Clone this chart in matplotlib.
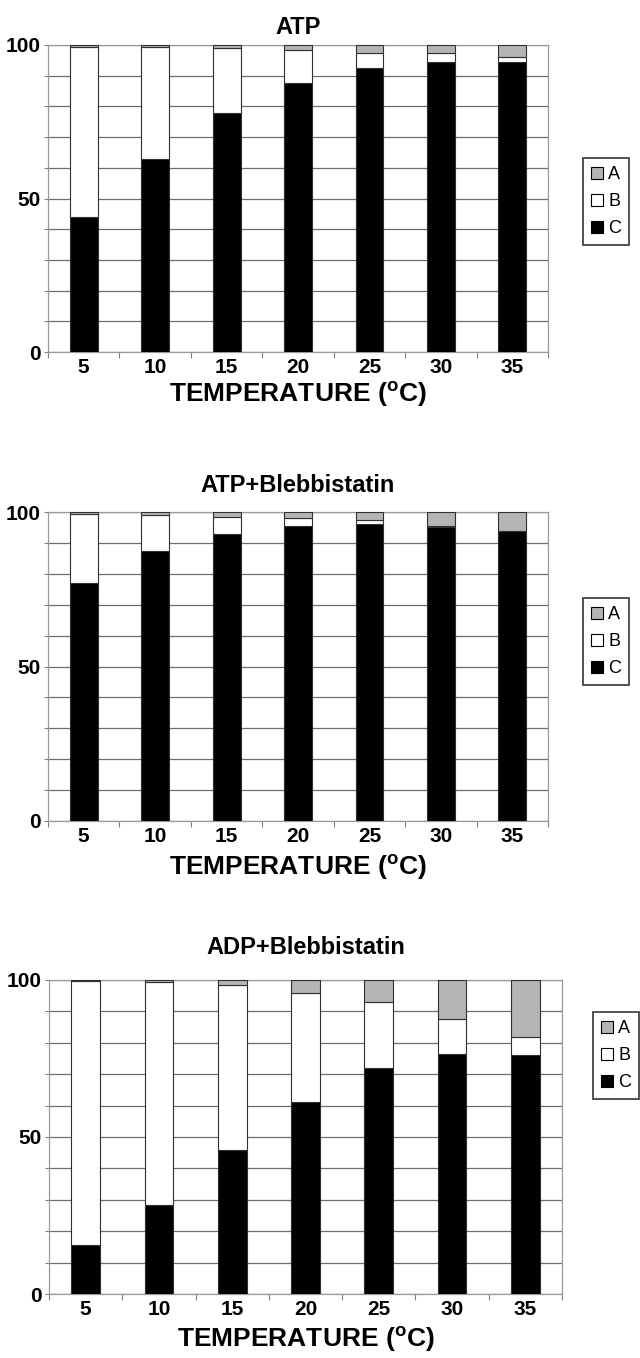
import numpy as np
import matplotlib
matplotlib.use("Agg")
import matplotlib.pyplot as plt
from matplotlib.patches import Patch

plt.rcParams['font.family'] = ['Liberation Sans', 'DejaVu Sans']

temps = ["5", "10", "15", "20", "25", "30", "35"]

# percentage of each state (A, B, C) per temperature
atp_a = [0.5, 0.5, 1.0, 1.5, 2.5, 2.5, 4.0]
atp_b = [55.5, 36.5, 21.0, 11.0, 5.0, 3.0, 1.5]
atp_c = [44.0, 63.0, 78.0, 87.5, 92.5, 94.5, 94.5]

atpb_a = [0.5, 1.0, 1.5, 2.0, 2.5, 4.5, 6.0]
atpb_b = [22.5, 11.5, 5.5, 2.5, 1.5, 0.5, 0.0]
atpb_c = [77.0, 87.5, 93.0, 95.5, 96.0, 95.0, 94.0]

adpb_a = [0.3, 0.5, 1.5, 4.0, 7.0, 12.5, 18.0]
adpb_b = [84.0, 71.0, 52.5, 35.0, 21.0, 11.0, 6.0]
adpb_c = [15.7, 28.5, 46.0, 61.0, 72.0, 76.5, 76.0]

titles = ["ATP", "ATP+Blebbistatin", "ADP+Blebbistatin"]

W, H = 640, 1358
fig = plt.figure(figsize=(W / 100, H / 100), dpi=100)

COL_A, COL_B, COL_C = '#b4b4b4', 'white', 'black'
EDGE = '#303030'


def px_axes(left, top, right, bottom):
    return fig.add_axes([left / W, 1 - bottom / H, (right - left) / W, (bottom - top) / H])


def draw_panel(box, title, a, b, c, legend_box, title_gap, xlabel_gap):
    left, top, right, bottom = box
    ax = px_axes(left, top, right, bottom)
    x = np.arange(len(temps))
    wid = 0.39
    ax.bar(x, c, wid, color=COL_C, edgecolor=EDGE, linewidth=0.8, zorder=3)
    ax.bar(x, b, wid, bottom=c, color=COL_B, edgecolor=EDGE, linewidth=0.8, zorder=3)
    ax.bar(x, a, wid, bottom=np.array(c) + np.array(b), color=COL_A,
           edgecolor=EDGE, linewidth=0.8, zorder=3)

    ax.set_xlim(-0.5, len(temps) - 0.5)
    ax.set_ylim(0, 100)

    ax.set_xticks(x)
    ax.set_xticklabels(temps, fontsize=15, fontweight='bold')
    ax.set_xticks(np.arange(-0.5, len(temps), 1.0), minor=True)
    ax.tick_params(axis='x', which='major', length=0, pad=4)
    ax.tick_params(axis='x', which='minor', length=4, color='#808080', width=0.8)

    ax.set_yticks([0, 50, 100])
    ax.set_yticklabels(["0", "50", "100"], fontsize=15, fontweight='bold')
    ax.set_yticks(np.arange(0, 101, 10), minor=True)
    ax.tick_params(axis='y', which='both', length=3, color='#808080', width=0.8, pad=2)
    ax.grid(axis='y', which='both', color='#6e6e6e', linewidth=0.9, zorder=0)
    ax.set_axisbelow(True)
    for s in ax.spines.values():
        s.set_color('#9a9a9a')
        s.set_linewidth(0.9)

    cx = (left + right) / 2 / W
    fig.text(cx, 1 - (top - title_gap) / H, title, ha='center', va='center',
             fontsize=17, fontweight='bold')
    fig.text(cx, 1 - (bottom + xlabel_gap) / H, r"TEMPERATURE ($\mathregular{^{o}}$C)",
             ha='center', va='center', fontsize=19, fontweight='bold')

    handles = [Patch(facecolor=COL_A, edgecolor='black', linewidth=0.8),
               Patch(facecolor=COL_B, edgecolor='black', linewidth=0.8),
               Patch(facecolor=COL_C, edgecolor='black', linewidth=0.8)]
    lx, ly = legend_box
    leg = fig.legend(handles, ["A", "B", "C"], loc='upper left',
                     bbox_to_anchor=(lx / W, 1 - ly / H), frameon=True, fancybox=False,
                     fontsize=13, handlelength=0.65, handleheight=0.65, handletextpad=0.3,
                     labelspacing=0.55, borderpad=0.45, borderaxespad=0)
    leg.get_frame().set_edgecolor('black')
    leg.get_frame().set_linewidth(1.2)
    return ax


draw_panel((48, 45, 548, 352), titles[0], atp_a, atp_b, atp_c, (583, 158), 18, 42)
draw_panel((48, 512, 548, 821), titles[1], atpb_a, atpb_b, atpb_c, (583, 598), 27, 47)
draw_panel((49, 980, 562, 1294), titles[2], adpb_a, adpb_b, adpb_c, (593, 1012), 32, 45)

fig.savefig("out.png", dpi=100, facecolor='white')
